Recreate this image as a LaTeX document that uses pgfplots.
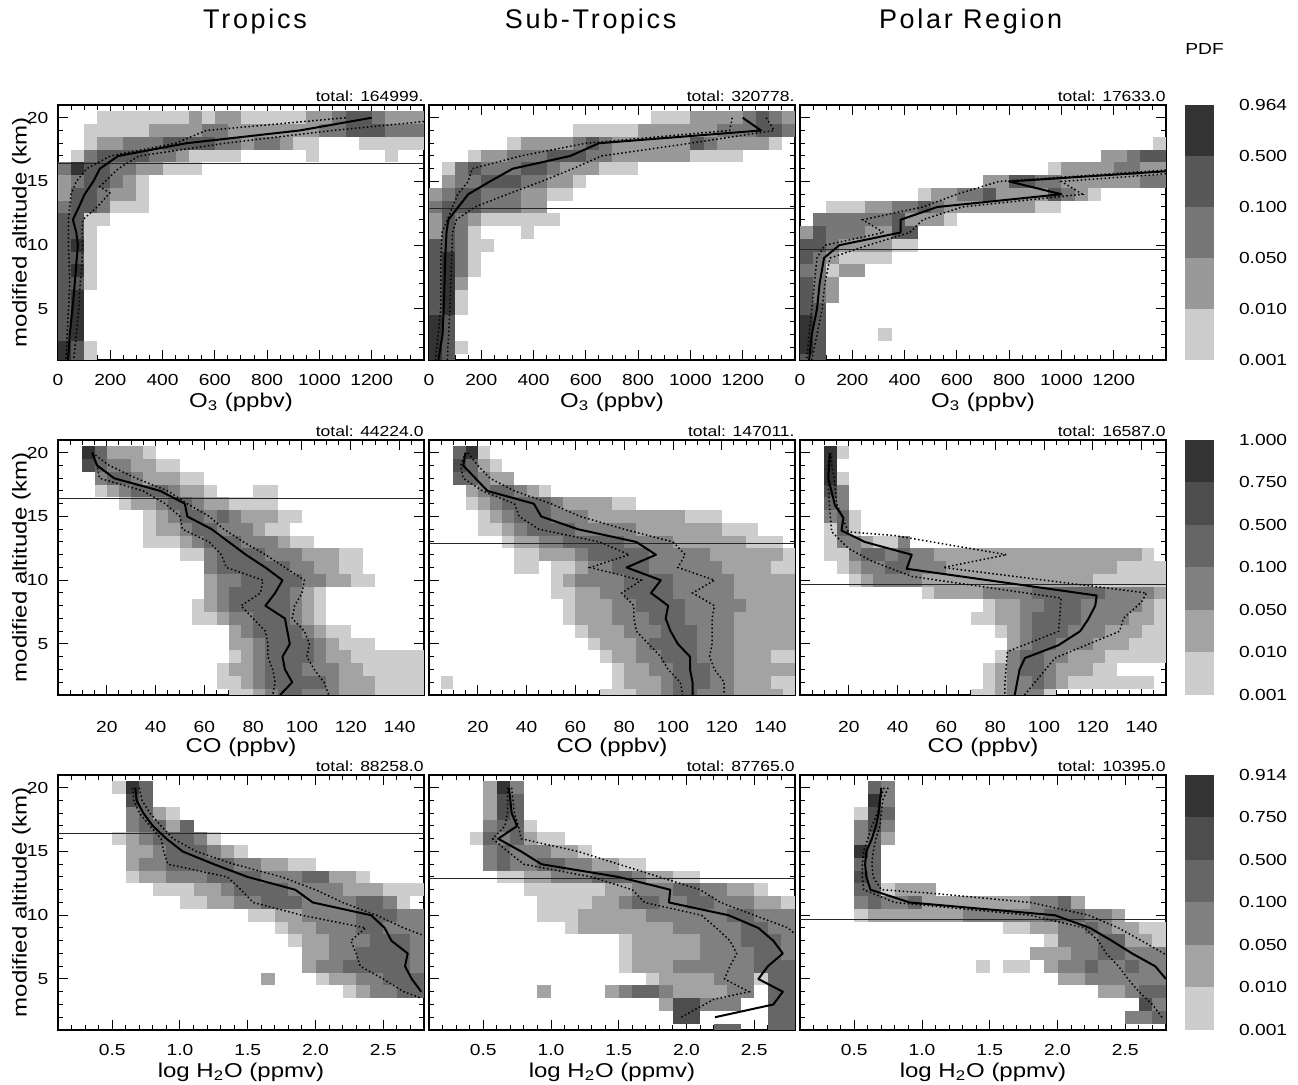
\documentclass[border=0pt]{standalone}
\usepackage{fontspec}
\setmainfont{Liberation Sans}[FakeStretch=1.2]
\newfontfamily\titlefam{Liberation Sans}[LetterSpace=10]
\usepackage{pgfplots}
\usepackage{pgfplotstable}
\pgfplotsset{compat=1.18}

\definecolor{A1}{HTML}{CCCCCC}\definecolor{A2}{HTML}{999999}\definecolor{A3}{HTML}{777777}
\definecolor{A4}{HTML}{585858}\definecolor{A5}{HTML}{333333}
\definecolor{B1}{HTML}{CDCDCD}\definecolor{B2}{HTML}{A3A3A3}\definecolor{B3}{HTML}{808080}
\definecolor{B4}{HTML}{666666}\definecolor{B5}{HTML}{4D4D4D}\definecolor{B6}{HTML}{333333}

\newcommand\tfont{\fontsize{8}{9.6}\selectfont}
\newcommand\sfont{\fontsize{7.3}{8.8}\selectfont}
\newcommand\titlefont{\titlefam\fontsize{13.5}{16}\selectfont}

\tikzset{tot/.style={anchor=base east, font=\sfont, inner sep=0pt, yshift=1.5pt}}

\pgfplotsset{
  panel/.style={scale only axis, width=183pt, height=127.5pt, anchor=north west,
    clip mode=individual,
    ymin=1, ymax=21, ytick={5,10,15,20}, yticklabels={5,10,15,20}, minor ytick={1,...,21},
    major tick length=5pt, minor tick length=2.5pt,
    tick style={black, line width=0.5pt},
    axis line style={line width=0.65pt},
    tick label style={font=\tfont},
    label style={font=\tfont},
    yticklabel shift=1.3pt,
    every axis y label/.style={at={(axis description cs:-0.1,0.5)}, rotate=90, anchor=center}},
  o3/.style={xmin=0, xmax=1400, xtick={0,200,...,1200}, xticklabels={0,200,400,600,800,1000,1200},
    minor xtick={0,50,...,1400}, xlabel={O\textsubscript{3} (ppbv)}, xticklabel shift=3.5pt,
    every axis x label/.style={at={(axis description cs:0.5,-0.165)}, anchor=center}},
  co/.style={xmin=0, xmax=150, xtick={20,40,...,140}, xticklabels={20,40,60,80,100,120,140},
    minor xtick={0,5,...,150}, xlabel={CO (ppbv)}, xticklabel shift=9.5pt,
    every axis x label/.style={at={(axis description cs:0.5,-0.204)}, anchor=center}},
  hw/.style={xmin=0.1, xmax=2.8, xtick={0.5,1,1.5,2,2.5}, xticklabels={0.5,1.0,1.5,2.0,2.5},
    minor xtick={0.1,0.2,...,2.8}, xlabel={log H\textsubscript{2}O (ppmv)}, xticklabel shift=3.5pt,
    every axis x label/.style={at={(axis description cs:0.5,-0.165)}, anchor=center}},
  noy/.style={yticklabels={}},
  mline/.style={black, line width=1pt, line join=round},
  qline/.style={black, line width=0.75pt, dash pattern=on 0.75pt off 1.25pt},
  trop/.style={black!85, line width=0.45pt},
  cbar/.style={scale only axis, width=14.5pt, height=127.5pt, anchor=north west,
    xmin=0, xmax=1, xtick=\empty, axis line style={draw=none}, tick style={draw=none},
    major tick length=0pt, yticklabel pos=right,
    yticklabel style={anchor=west, font=\tfont}, yticklabel shift=9pt},
}

\newcommand\heat[3]{%
  \pgfplotsinvokeforeach{1,...,#3}{%
    \addplot[draw=none, mark=none, forget plot,
      error bars/.cd, x dir=both, x explicit, error mark=none,
      error bar style={draw=#2##1, line width=6.45pt}]
      table[x expr={(\thisrow{x1}+\thisrow{x2})/2}, y=y,
            x error expr={(\thisrow{x2}-\thisrow{x1})/2},
            restrict expr to domain={\thisrow{c}}{##1:##1}] {#1};
  }}

% ---------------- heat-map data: altitude bin, x from, x to, level ----------------
\pgfplotstableread[row sep=\\]{
y x1 x2 c\\
20 150 1400 1\\ 20 500 550 2\\ 20 600 700 2\\ 20 950 1400 2\\ 20 1050 1250 3\\ 20 1100 1200 4\\
19 100 1400 1\\ 19 350 1400 2\\ 19 550 650 3\\ 19 1000 1400 3\\ 19 1100 1250 4\\
18 100 1000 1\\ 18 1150 1400 1\\ 18 150 900 2\\ 18 250 700 3\\ 18 750 850 3\\ 18 400 600 4\\
17 50 700 1\\ 17 950 1000 1\\ 17 1250 1300 1\\ 17 100 500 2\\ 17 100 450 3\\ 17 150 350 4\\
16 0 550 1\\ 16 0 400 2\\ 16 0 300 3\\ 16 50 200 4\\ 16 50 100 5\\
15 0 350 1\\ 15 0 300 2\\ 15 50 250 3\\ 15 100 200 4\\
14 0 350 1\\ 14 0 300 2\\ 14 50 200 3\\ 14 50 150 4\\
13 0 350 1\\ 13 0 200 3\\ 13 50 150 4\\
12 0 200 1\\ 12 0 100 3\\ 12 0 100 4\\
11 100 150 1\\ 11 0 100 4\\
10 100 150 1\\ 10 0 100 4\\ 10 50 100 5\\
9 100 150 1\\ 9 0 100 4\\
8 100 150 1\\ 8 0 100 4\\ 8 50 100 5\\
7 100 150 1\\ 7 0 100 4\\
6 0 100 4\\ 6 50 100 5\\
5 0 100 4\\ 5 50 100 5\\
4 0 100 4\\ 4 50 100 5\\
3 0 100 4\\ 3 50 100 5\\
2 100 150 1\\ 2 50 100 4\\ 2 0 50 5\\
1 100 150 1\\ 1 50 100 4\\ 1 0 50 5\\
}\tA
\pgfplotstableread[row sep=\\]{
y x1 x2 c\\
20 850 1400 1\\ 20 1000 1400 2\\ 20 1200 1350 3\\ 20 1250 1300 4\\
19 550 1400 1\\ 19 800 1400 2\\ 19 1100 1400 3\\ 19 1250 1350 4\\
18 300 1350 1\\ 18 350 1300 2\\ 18 550 700 3\\ 18 1000 1100 3\\ 18 600 650 4\\ 18 1000 1050 4\\
17 150 1200 1\\ 17 200 1000 2\\ 17 300 700 3\\ 17 450 600 4\\
16 50 800 1\\ 16 100 650 2\\ 16 100 500 3\\ 16 150 200 4\\ 16 350 450 4\\
15 50 600 1\\ 15 50 550 2\\ 15 100 450 3\\ 15 200 350 4\\
14 0 550 1\\ 14 0 450 2\\ 14 50 350 3\\ 14 100 200 4\\
13 0 450 1\\ 13 0 450 2\\ 13 0 350 3\\ 13 50 200 4\\
12 0 500 1\\ 12 0 200 2\\ 12 50 150 3\\ 12 50 100 4\\
11 0 200 1\\ 11 350 400 1\\ 11 0 150 2\\ 11 50 150 3\\ 11 50 100 4\\
10 100 250 1\\ 10 0 150 3\\ 10 0 100 4\\
9 100 200 1\\ 9 0 150 3\\ 9 0 100 4\\ 9 50 100 5\\
8 100 200 1\\ 8 0 150 3\\ 8 0 100 4\\ 8 50 100 5\\
7 100 150 2\\ 7 0 100 4\\ 7 50 100 5\\
6 100 150 1\\ 6 0 100 4\\ 6 50 100 5\\
5 100 150 1\\ 5 0 100 4\\ 5 50 100 5\\
4 0 100 4\\ 4 0 50 5\\
3 0 100 4\\ 3 0 50 5\\
2 100 150 1\\ 2 0 100 4\\ 2 0 50 5\\
1 0 100 4\\ 1 0 50 5\\
}\tB
\pgfplotstableread[row sep=\\]{
y x1 x2 c\\
18 1350 1400 1\\
17 1150 1400 1\\ 17 1150 1250 2\\ 17 1250 1300 3\\ 17 1300 1400 4\\
16 950 1400 1\\ 16 1000 1400 2\\ 16 1200 1300 3\\
15 700 1400 1\\ 15 700 1400 2\\ 15 900 1000 3\\ 15 1300 1400 3\\ 15 800 900 4\\
14 450 1150 1\\ 14 500 1100 2\\ 14 600 750 3\\ 14 950 1050 3\\ 14 700 750 4\\ 14 950 1000 4\\
13 100 1000 1\\ 13 250 900 2\\ 13 350 550 3\\ 13 450 500 4\\
12 50 600 1\\ 12 50 550 2\\ 12 50 400 3\\ 12 350 400 4\\
11 0 450 1\\ 11 0 450 2\\ 11 50 250 3\\ 11 50 100 4\\ 11 350 450 4\\
10 0 450 1\\ 10 0 350 2\\ 10 0 150 3\\ 10 0 100 4\\
9 0 350 1\\ 9 0 150 2\\ 9 0 100 3\\ 9 0 50 4\\
8 0 250 1\\ 8 150 250 2\\ 8 0 100 3\\
7 0 150 2\\ 7 0 100 3\\ 7 0 50 4\\
6 0 150 2\\ 6 0 100 3\\ 6 0 50 4\\
5 0 100 3\\ 5 0 100 4\\
4 0 100 4\\ 4 0 50 5\\
3 300 350 1\\ 3 0 100 4\\ 3 0 50 5\\
2 0 100 4\\ 2 0 50 5\\
1 0 100 4\\
}\tC
\pgfplotstableread[row sep=\\]{
y x1 x2 c\\
20 10 40 1\\ 20 15 35 2\\ 20 15 20 4\\ 20 10 15 6\\
19 10 50 1\\ 19 10 40 2\\ 19 15 30 3\\ 19 10 20 4\\ 19 10 15 5\\
18 15 60 1\\ 18 15 50 2\\ 18 15 35 3\\ 18 20 30 4\\
17 15 65 1\\ 17 80 90 1\\ 17 20 60 2\\ 17 25 50 3\\ 17 30 45 4\\
16 25 90 1\\ 16 30 70 2\\ 16 40 60 3\\ 16 45 55 4\\
15 35 100 1\\ 15 40 90 2\\ 15 45 75 3\\ 15 50 60 4\\ 15 65 70 4\\
14 35 95 1\\ 14 40 85 2\\ 14 50 80 3\\ 14 55 65 4\\
13 35 105 1\\ 13 50 95 2\\ 13 55 90 3\\ 13 60 75 4\\
12 50 125 1\\ 12 60 115 2\\ 12 60 100 3\\ 12 65 85 4\\
11 60 125 1\\ 11 60 115 2\\ 11 60 105 3\\ 11 65 95 4\\
10 60 130 1\\ 10 60 120 2\\ 10 65 110 3\\ 10 75 100 4\\
9 60 110 1\\ 9 60 105 2\\ 9 65 100 3\\ 9 70 95 4\\
8 55 110 1\\ 8 60 105 2\\ 8 65 100 3\\ 8 70 95 4\\
7 55 110 1\\ 7 65 105 2\\ 7 70 100 3\\ 7 80 95 4\\
6 70 120 1\\ 6 70 110 2\\ 6 75 105 3\\ 6 80 100 4\\
5 70 130 1\\ 5 70 115 2\\ 5 80 110 3\\ 5 85 105 4\\
4 70 150 1\\ 4 75 120 2\\ 4 80 110 3\\ 4 85 105 4\\
3 65 150 1\\ 3 70 125 2\\ 3 80 115 3\\ 3 85 100 4\\
2 65 150 1\\ 2 75 130 2\\ 2 80 115 3\\ 2 85 110 4\\
1 70 150 1\\ 1 80 130 2\\ 1 85 115 3\\ 1 90 100 4\\
}\tD
\pgfplotstableread[row sep=\\]{
y x1 x2 c\\
20 10 25 1\\ 20 10 20 4\\ 20 15 20 6\\
19 10 30 1\\ 19 15 25 2\\ 19 10 20 4\\ 19 10 15 5\\
18 10 35 1\\ 18 15 35 2\\ 18 15 25 3\\ 18 10 20 4\\
17 15 50 1\\ 17 15 45 2\\ 17 20 40 3\\ 17 25 35 4\\
16 15 85 1\\ 16 20 75 2\\ 16 25 55 3\\ 16 30 50 4\\
15 20 120 1\\ 15 25 105 2\\ 15 30 65 3\\ 15 35 50 4\\
14 20 135 1\\ 14 30 120 2\\ 14 35 85 3\\ 14 40 60 4\\
13 30 145 1\\ 13 35 130 2\\ 13 45 100 3\\ 13 55 80 4\\
12 35 150 1\\ 12 45 145 2\\ 12 60 115 3\\ 12 65 90 4\\
11 35 45 1\\ 11 50 150 1\\ 11 60 140 2\\ 11 65 120 3\\ 11 75 90 4\\
10 50 150 1\\ 10 55 150 2\\ 10 60 125 3\\ 10 80 100 4\\
9 50 150 1\\ 9 60 150 2\\ 9 70 125 3\\ 9 80 100 4\\
8 55 150 1\\ 8 60 150 2\\ 8 75 130 3\\ 8 85 105 4\\
7 55 150 1\\ 7 60 150 2\\ 7 75 125 3\\ 7 90 105 4\\
6 60 150 1\\ 6 65 150 2\\ 6 80 125 3\\ 6 95 110 4\\
5 65 150 1\\ 5 70 150 2\\ 5 85 125 3\\ 5 90 110 4\\
4 70 150 1\\ 4 75 140 2\\ 4 85 125 3\\ 4 95 110 4\\
3 75 150 1\\ 3 80 150 2\\ 3 90 125 3\\ 3 100 115 4\\
2 5 10 1\\ 2 75 150 1\\ 2 80 140 2\\ 2 95 125 3\\ 2 100 115 4\\
1 70 150 1\\ 1 85 145 2\\ 1 95 125 3\\ 1 100 110 4\\
}\tE
\pgfplotstableread[row sep=\\]{
y x1 x2 c\\
20 15 20 1\\ 20 10 15 6\\
19 10 15 6\\
18 15 20 1\\ 18 10 15 6\\
17 10 20 1\\ 17 15 20 3\\ 17 10 15 5\\
16 10 20 1\\ 16 15 20 3\\ 16 10 15 4\\
15 10 25 1\\ 15 10 20 3\\ 15 15 20 4\\
14 10 25 1\\ 14 15 20 3\\ 14 15 20 4\\
13 10 40 1\\ 13 15 30 2\\ 13 15 25 3\\ 13 40 45 3\\
12 10 145 1\\ 12 20 140 2\\ 12 20 55 3\\ 12 25 35 4\\ 12 40 45 4\\
11 15 150 1\\ 11 20 130 2\\ 11 25 60 3\\ 11 35 45 4\\
10 20 150 1\\ 10 25 120 2\\ 10 30 50 3\\
9 50 150 1\\ 9 55 150 2\\ 9 75 145 3\\ 9 95 125 4\\
8 75 150 1\\ 8 80 145 2\\ 8 90 140 3\\ 8 100 115 4\\
7 70 150 1\\ 7 80 145 2\\ 7 90 135 3\\ 7 95 115 4\\
6 80 150 1\\ 6 85 140 2\\ 6 90 125 3\\ 6 95 110 4\\
5 85 150 1\\ 5 85 135 2\\ 5 90 120 3\\ 5 95 105 4\\
4 80 150 1\\ 4 85 125 2\\ 4 85 110 3\\ 4 90 100 4\\
3 75 130 1\\ 3 80 120 2\\ 3 85 105 3\\ 3 90 100 4\\
2 75 145 1\\ 2 80 110 2\\ 2 85 105 3\\ 2 95 100 4\\
1 70 105 1\\ 1 80 100 2\\ 1 85 100 3\\
}\tF
\pgfplotstableread[row sep=\\]{
y x1 x2 c\\
20 0.5 0.6 1\\ 20 0.7 0.8 4\\ 20 0.6 0.7 6\\
19 0.7 0.8 4\\ 19 0.6 0.7 5\\
18 0.6 1.0 1\\ 18 0.6 0.9 2\\ 18 0.6 0.8 3\\ 18 0.7 0.8 4\\
17 0.6 1.1 1\\ 17 0.6 1.1 2\\ 17 0.6 0.8 3\\ 17 0.7 0.9 4\\ 17 1.0 1.1 4\\
16 0.5 1.3 1\\ 16 0.6 1.2 2\\ 16 0.7 1.2 3\\ 16 0.8 1.1 4\\
15 0.6 1.5 1\\ 15 0.6 1.4 2\\ 15 0.8 1.3 3\\ 15 0.9 1.2 4\\
14 0.6 2.0 1\\ 14 0.6 1.8 2\\ 14 0.7 1.6 3\\ 14 0.9 1.4 4\\
13 0.6 2.4 1\\ 13 0.7 2.3 2\\ 13 0.9 2.1 3\\ 13 1.2 1.6 4\\ 13 1.9 2.1 4\\
12 0.8 2.8 1\\ 12 1.1 2.5 2\\ 12 1.3 2.2 3\\ 12 1.4 1.8 4\\
11 1.0 2.7 1\\ 11 1.2 2.6 2\\ 11 1.4 2.6 3\\ 11 1.6 1.9 4\\ 11 2.3 2.5 4\\
10 1.5 2.8 1\\ 10 1.7 2.8 2\\ 10 1.9 2.8 3\\ 10 2.3 2.6 4\\
9 1.7 2.8 1\\ 9 1.8 2.8 2\\ 9 2.0 2.8 3\\ 9 2.3 2.5 4\\
8 1.8 2.8 1\\ 8 1.9 2.8 2\\ 8 2.1 2.8 3\\ 8 2.4 2.7 4\\
7 1.9 2.8 1\\ 7 1.9 2.8 2\\ 7 2.1 2.8 3\\ 7 2.3 2.7 4\\
6 1.9 2.8 1\\ 6 1.9 2.8 2\\ 6 2.0 2.8 3\\ 6 2.2 2.7 4\\
5 1.6 1.7 1\\ 5 2.0 2.8 1\\ 5 2.1 2.8 2\\ 5 1.6 1.7 2\\ 5 2.3 2.8 3\\ 5 2.5 2.8 4\\
4 2.2 2.8 1\\ 4 2.3 2.8 2\\ 4 2.4 2.8 3\\ 4 2.6 2.8 4\\
}\tG
\pgfplotstableread[row sep=\\]{
y x1 x2 c\\
20 0.5 0.6 2\\ 20 0.7 0.8 3\\ 20 0.6 0.7 6\\
19 0.5 0.6 2\\ 19 0.7 0.8 4\\ 19 0.6 0.7 5\\
18 0.5 0.6 2\\ 18 0.7 0.8 4\\ 18 0.6 0.7 5\\
17 0.8 0.9 1\\ 17 0.5 0.6 3\\ 17 0.6 0.8 4\\
16 0.4 1.1 1\\ 16 0.5 0.9 2\\ 16 0.5 0.8 3\\ 16 0.5 0.6 4\\ 16 0.7 0.8 4\\
15 0.5 1.3 1\\ 15 0.5 1.2 2\\ 15 0.5 1.0 3\\ 15 0.6 0.7 4\\
14 0.5 1.7 1\\ 14 0.5 1.5 2\\ 14 0.5 1.3 3\\ 14 0.6 0.7 4\\ 14 0.9 1.1 4\\
13 0.6 2.1 1\\ 13 0.8 1.9 2\\ 13 1.0 1.7 3\\ 13 1.3 1.6 4\\
12 0.8 2.6 1\\ 12 1.4 2.5 2\\ 12 1.6 2.3 3\\ 12 1.9 2.1 4\\
11 0.9 2.8 1\\ 11 1.3 2.7 2\\ 11 1.5 2.5 3\\ 11 1.6 1.8 4\\ 11 2.0 2.2 4\\
10 0.9 2.8 1\\ 10 1.2 2.8 2\\ 10 1.7 2.8 3\\ 10 2.3 2.5 4\\
9 1.1 2.8 1\\ 9 1.2 2.8 2\\ 9 1.9 2.8 3\\ 9 2.4 2.6 4\\
8 1.5 2.8 1\\ 8 1.6 2.8 2\\ 8 2.1 2.8 3\\ 8 2.4 2.7 4\\
7 1.5 2.8 1\\ 7 1.6 2.8 2\\ 7 2.1 2.8 3\\ 7 2.5 2.7 4\\
6 1.5 2.8 1\\ 6 1.6 2.8 2\\ 6 1.9 2.8 3\\ 6 2.5 2.8 4\\
5 1.7 2.6 1\\ 5 1.8 2.5 2\\ 5 2.2 2.5 3\\ 5 2.6 2.8 4\\
4 0.9 1.0 2\\ 4 1.4 2.5 2\\ 4 1.5 1.9 3\\ 4 2.3 2.5 3\\ 4 1.6 1.8 4\\ 4 2.6 2.8 4\\
3 1.8 2.3 2\\ 3 2.1 2.4 3\\ 3 2.6 2.8 4\\ 3 1.9 2.1 5\\
2 2.6 2.8 4\\ 2 1.9 2.1 5\\
1 2.2 2.4 4\\ 1 2.6 2.8 4\\
}\tH
\pgfplotstableread[row sep=\\]{
y x1 x2 c\\
20 0.7 0.8 3\\ 20 0.6 0.7 4\\
19 0.7 0.8 3\\ 19 0.6 0.7 6\\
18 0.5 0.6 1\\ 18 0.7 0.8 4\\ 18 0.6 0.7 5\\
17 0.5 0.6 3\\ 17 0.7 0.8 3\\ 17 0.6 0.7 5\\
16 0.7 0.8 2\\ 16 0.5 0.6 3\\ 16 0.6 0.7 4\\
15 0.6 0.7 4\\ 15 0.5 0.6 6\\
14 0.5 0.7 4\\
13 0.6 0.7 4\\ 13 0.5 0.6 5\\
12 0.7 0.8 1\\ 12 0.8 1.1 2\\ 12 0.5 0.7 4\\
11 0.5 2.2 1\\ 11 0.5 2.2 2\\ 11 0.5 0.9 3\\ 11 1.8 2.1 3\\ 11 0.6 0.7 4\\ 11 0.9 1.0 4\\ 11 2.0 2.1 4\\
10 0.5 2.5 1\\ 10 0.6 2.5 2\\ 10 1.3 2.4 3\\ 10 1.9 2.2 4\\
9 1.6 2.8 1\\ 9 1.8 2.6 2\\ 9 2.0 2.4 3\\ 9 2.2 2.3 4\\
8 1.9 2.8 1\\ 8 2.0 2.7 2\\ 8 2.0 2.5 3\\ 8 2.3 2.5 4\\
7 1.8 2.8 1\\ 7 1.8 2.8 2\\ 7 2.1 2.8 3\\ 7 2.3 2.5 4\\
6 1.4 1.5 1\\ 6 1.6 1.8 1\\ 6 1.9 2.8 2\\ 6 2.0 2.8 3\\ 6 2.2 2.3 4\\ 6 2.5 2.6 4\\
5 2.0 2.8 2\\ 5 2.2 2.8 3\\
4 2.3 2.8 2\\ 4 2.5 2.8 3\\ 4 2.6 2.8 4\\
3 2.6 2.8 3\\ 3 2.6 2.7 5\\
2 2.5 2.8 3\\ 2 2.7 2.8 4\\
}\tI

\begin{document}
\begin{tikzpicture}
\useasboundingbox (0,0) rectangle (649pt,542.5pt);

\node[anchor=base] at (127.5pt,528pt) {\titlefont Tropics};
\node[anchor=base] at (295.3pt,528pt) {\titlefont Sub-Tropics};
\node[anchor=base] at (485.3pt,528pt) {\titlefont Polar Region};
\node[anchor=west, inner sep=0pt] at (592.5pt,518pt) {\tfont PDF};

% ================= Row 1: O3 =================
\begin{axis}[panel, o3, at={(29pt,490pt)}, ylabel={modified altitude (km)}]
\heat{\tA}{A}{5}
\addplot[trop] coordinates {(0,16.4) (1400,16.4)};
\addplot[qline] coordinates {(1100,20)(567,19)(450,18)(200,17)(110,16)(70,15)(50,14)(45,13)(40,12)(40,10)(45,7)(40,5)(35,3)(30,1)};
\addplot[qline] coordinates {(1400,19.7)(1050,19)(640,18)(310,17)(230,16)(160,14.6)(198,14.1)(150,13)(95,12)(92,11)(95,10)(90,8)(85,7)(80,5)(70,3)(60,1)};
\addplot[mline] coordinates {(1200,20)(924,19)(491,18)(230,17)(160,16)(135,15)(102,14)(80,13)(57,12)(70,11)(76,10)(72,9)(68,8)(64,7)(60,6)(55,5)(50,4)(45,3)(42,2)(38,1)};
\node[tot] at (rel axis cs:1,1) {total: 164999.};
\end{axis}

\begin{axis}[panel, o3, noy, at={(214.5pt,490pt)}]
\heat{\tB}{A}{5}
\addplot[trop] coordinates {(0,12.9) (1400,12.9)};
\addplot[qline] coordinates {(1160,20)(1150,19)(600,18)(350,17)(165,16)(150,15)(110,14)(90,13)(70,12)(50,11)(45,9)(45,5)(25,1)};
\addplot[qline] coordinates {(1290,20)(1320,19)(1000,18)(660,17)(550,16)(430,15)(300,14)(175,13)(105,12)(90,11)(85,8)(80,5)(70,1)};
\addplot[mline] coordinates {(1200,20)(1270,19)(650,18)(540,17)(320,16)(233,15)(150,14)(112,13)(74,12)(67,11)(62,9)(58,6)(52,3)(36,1)};
\node[tot] at (rel axis cs:1,1) {total: 320778.};
\end{axis}

\begin{axis}[panel, o3, noy, at={(400pt,490pt)}]
\heat{\tC}{A}{5}
\addplot[trop] coordinates {(0,9.7) (1400,9.7)};
\addplot[qline] coordinates {(1400,15.9)(760,15)(600,14)(470,13)(240,12)(320,11)(95,10)(65,9)(55,7)(45,5)(35,3)(25,1)};
\addplot[qline] coordinates {(1400,15.6)(1000,15)(1080,14)(620,13)(470,12)(420,11)(260,10)(115,9)(95,7)(85,5)(65,3)(45,1)};
\addplot[mline] coordinates {(1400,15.8)(800,15)(1000,14)(525,13)(385,12)(385,11)(150,10)(92,9)(75,7)(65,5)(45,3)(35,1)};
\node[tot] at (rel axis cs:1,1) {total: 17633.0};
\end{axis}

\begin{axis}[cbar, at={(592.5pt,490pt)}, ymin=0, ymax=5, ytick={0,...,5},
  yticklabels={0.001,0.010,0.050,0.100,0.500,0.964}]
\addplot[fill=A1, draw=none] coordinates {(0,0)(1,0)(1,1)(0,1)};
\addplot[fill=A2, draw=none] coordinates {(0,1)(1,1)(1,2)(0,2)};
\addplot[fill=A3, draw=none] coordinates {(0,2)(1,2)(1,3)(0,3)};
\addplot[fill=A4, draw=none] coordinates {(0,3)(1,3)(1,4)(0,4)};
\addplot[fill=A5, draw=none] coordinates {(0,4)(1,4)(1,5)(0,5)};
\end{axis}

% ================= Row 2: CO =================
\begin{axis}[panel, co, at={(29pt,322.5pt)}, ylabel={modified altitude (km)}]
\heat{\tD}{B}{6}
\addplot[trop] coordinates {(0,16.4) (150,16.4)};
\addplot[qline] coordinates {(14,20)(16,19)(17,18)(35,17)(44,16)(50,15)(51,14)(62,13)(67,12)(69,11)(84,10)(83,9)(75,8)(80,7)(85,6)(86,5)(86,4)(88,3)(89,2)(88,1)};
\addplot[qline] coordinates {(14,20)(21,19)(32,18)(45,17)(53,16)(62,15)(68,14)(76,13)(85,12)(93,11)(101,10)(100,9)(97,8)(96,7)(101,6)(103,5)(102,4)(105,3)(109,2)(111,1)};
\addplot[mline] coordinates {(14,20)(16,19)(23,18)(42,17)(52,16)(53,15)(63,14)(70,13)(77,12)(85,11)(92,10)(89,9)(85,8)(93,7)(94,6)(95,5)(92,4)(93,3)(96,2)(91,1)};
\node[tot] at (rel axis cs:1,1) {total: 44224.0};
\end{axis}

\begin{axis}[panel, co, noy, at={(214.5pt,322.5pt)}]
\heat{\tE}{B}{6}
\addplot[trop] coordinates {(0,12.9) (150,12.9)};
\addplot[qline] coordinates {(15,20)(13,19)(14,18)(22,17)(35,16)(37,15)(45,14)(70,13)(82,12)(66,11)(87,10)(79,9)(84,8)(84,7)(85,6)(90,5)(95,4)(98,3)(103,2)(104,1)};
\addplot[qline] coordinates {(16,20)(20,19)(25,18)(35,17)(50,16)(62,15)(80,14)(100,13)(105,12)(102,11)(117,10)(108,9)(117,8)(116,7)(116,6)(116,5)(115,4)(117,3)(121,2)(121,1)};
\addplot[mline] coordinates {(15,20)(14,19)(19,18)(24,17)(43,16)(46,15)(61,14)(85,13)(93,12)(81,11)(95,10)(91,9)(98,8)(97,7)(99,6)(102,5)(107,4)(107,3)(108,2)(108,1)};
\node[tot] at (rel axis cs:1,1) {total: 147011.};
\end{axis}

\begin{axis}[panel, co, noy, at={(400pt,322.5pt)}]
\heat{\tF}{B}{6}
\addplot[trop] coordinates {(0,9.7) (150,9.7)};
\addplot[qline] coordinates {(12,20)(11.5,19)(11.5,18)(12,16)(13,13.8)(19.8,12.5)(29.4,11.5)(45.8,10.3)(107,8.6)(106,6)(85,4.4)(84,2)(84,1)};
\addplot[qline] coordinates {(13,20)(13,19)(14,18)(15,16)(19.8,13.8)(39,13.5)(84.7,12)(58.7,11)(142,9)(140,8.3)(132.5,7)(131,6)(104.5,3.9)(92,1)};
\addplot[mline] coordinates {(12.3,19.9)(11.6,18)(14.3,15.9)(17.8,14.9)(17,13.9)(26.6,13)(45.8,12)(43.7,10.9)(121.6,8.8)(121,8)(118,6.9)(114.8,6)(105.9,4.9)(92.2,3.9)(90,3)(88,1)};
\node[tot] at (rel axis cs:1,1) {total: 16587.0};
\end{axis}

\begin{axis}[cbar, at={(592.5pt,322.5pt)}, ymin=0, ymax=6, ytick={0,...,6},
  yticklabels={0.001,0.010,0.050,0.100,0.500,0.750,1.000}]
\addplot[fill=B1, draw=none] coordinates {(0,0)(1,0)(1,1)(0,1)};
\addplot[fill=B2, draw=none] coordinates {(0,1)(1,1)(1,2)(0,2)};
\addplot[fill=B3, draw=none] coordinates {(0,2)(1,2)(1,3)(0,3)};
\addplot[fill=B4, draw=none] coordinates {(0,3)(1,3)(1,4)(0,4)};
\addplot[fill=B5, draw=none] coordinates {(0,4)(1,4)(1,5)(0,5)};
\addplot[fill=B6, draw=none] coordinates {(0,5)(1,5)(1,6)(0,6)};
\end{axis}

% ================= Row 3: H2O =================
\begin{axis}[panel, hw, at={(29pt,155pt)}, ylabel={modified altitude (km)}]
\heat{\tG}{B}{6}
\addplot[trop] coordinates {(0.1,16.4) (2.8,16.4)};
\addplot[qline] coordinates {(0.65,20)(0.66,19)(0.70,18)(0.78,17)(0.86,16)(0.88,15)(0.91,14)(1.35,13)(1.45,12)(1.54,11)(1.9,10)(2.37,9)(2.26,8)(2.3,7)(2.33,6)(2.5,5)(2.65,4)(2.78,3.5)};
\addplot[qline] coordinates {(0.70,20)(0.72,19)(0.78,18)(0.86,17)(0.95,16)(1.12,15)(1.4,14)(1.75,13)(2.0,12)(2.2,11)(2.45,10)(2.65,9)(2.8,8.4)};
\addplot[mline] coordinates {(0.67,20)(0.68,19)(0.73,18)(0.80,17)(0.90,16)(1.02,15)(1.25,14)(1.5,13)(1.85,12)(1.98,11)(2.41,10)(2.51,9)(2.56,8)(2.68,7)(2.66,6)(2.71,5)(2.78,4)};
\node[tot] at (rel axis cs:1,1) {total: 88258.0};
\end{axis}

\begin{axis}[panel, hw, noy, at={(214.5pt,155pt)}]
\heat{\tH}{B}{6}
\addplot[trop] coordinates {(0.1,12.9) (2.8,12.9)};
\addplot[qline] coordinates {(0.68,20)(0.68,19)(0.68,18)(0.66,17)(0.57,16)(0.68,15)(0.8,14)(1.3,13)(1.6,12)(1.69,11)(2.11,10)(2.22,9)(2.32,8)(2.37,7)(2.32,6)(2.28,5)(2.46,4)(2.2,3.4)(1.96,2)};
\addplot[qline] coordinates {(0.71,20)(0.72,19)(0.73,18)(0.76,17)(0.78,16)(1.2,15)(1.5,14)(1.8,13)(2.1,12)(2.25,11)(2.5,10)(2.75,9)(2.8,8.5)};
\addplot[mline] coordinates {(0.69,20)(0.70,19)(0.71,18)(0.75,17)(0.61,16)(0.78,15)(0.93,14)(1.5,13)(1.88,12)(1.87,11)(2.31,10)(2.53,9)(2.64,8)(2.71,7)(2.6,6)(2.53,5)(2.71,4)(2.64,3)(2.21,2)};
\node[tot] at (rel axis cs:1,1) {total: 87765.0};
\end{axis}

\begin{axis}[panel, hw, noy, at={(400pt,155pt)}]
\heat{\tI}{B}{6}
\addplot[trop] coordinates {(0.1,9.7) (2.8,9.7)};
\addplot[qline] coordinates {(0.72,20)(0.69,19)(0.67,18)(0.63,17)(0.60,16)(0.57,15)(0.56,14)(0.56,13)(0.57,12)(0.8,11)(1.8,10)(2.2,9)(2.3,8)(2.36,7)(2.45,6)(2.52,5)(2.6,4)(2.7,3)(2.77,2)};
\addplot[qline] coordinates {(0.75,20)(0.71,19)(0.70,18)(0.69,17)(0.66,16)(0.64,15)(0.63,14)(0.64,13)(0.7,12)(1.1,11.7)(1.8,11)(2.23,10)(2.45,9)(2.62,8)(2.8,6.9)};
\addplot[mline] coordinates {(0.70,20)(0.69,19)(0.68,18)(0.66,17)(0.63,16)(0.59,15)(0.58,14)(0.59,13)(0.62,12)(0.91,11)(1.98,10)(2.24,9)(2.4,8)(2.55,7)(2.72,6)(2.8,5)};
\node[tot] at (rel axis cs:1,1) {total: 10395.0};
\end{axis}

\begin{axis}[cbar, at={(592.5pt,155pt)}, ymin=0, ymax=6, ytick={0,...,6},
  yticklabels={0.001,0.010,0.050,0.100,0.500,0.750,0.914}]
\addplot[fill=B1, draw=none] coordinates {(0,0)(1,0)(1,1)(0,1)};
\addplot[fill=B2, draw=none] coordinates {(0,1)(1,1)(1,2)(0,2)};
\addplot[fill=B3, draw=none] coordinates {(0,2)(1,2)(1,3)(0,3)};
\addplot[fill=B4, draw=none] coordinates {(0,3)(1,3)(1,4)(0,4)};
\addplot[fill=B5, draw=none] coordinates {(0,4)(1,4)(1,5)(0,5)};
\addplot[fill=B6, draw=none] coordinates {(0,5)(1,5)(1,6)(0,6)};
\end{axis}
\end{tikzpicture}
\end{document}
